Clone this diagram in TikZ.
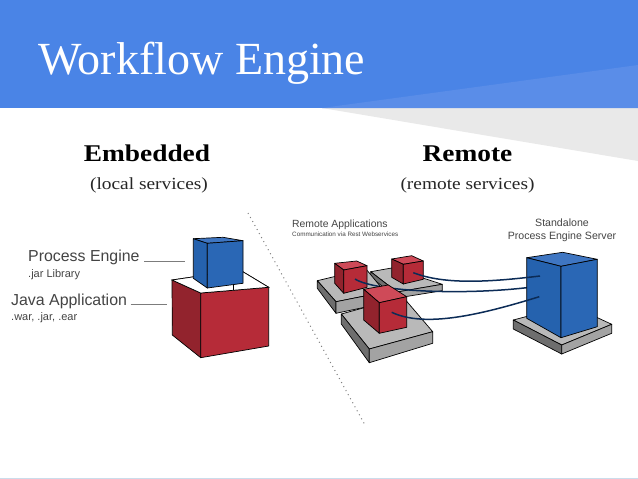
\documentclass[tikz,border=0pt]{standalone}
\usepackage{fontspec}
\setmainfont{Liberation Serif}
\newfontfamily\labelfont{Liberation Sans}
\newfontfamily\widefont[FakeStretch=1.14]{Liberation Serif}
\usepackage{tikz}
\definecolor{headblue}{HTML}{4A84E6}
\definecolor{headlight}{HTML}{5A8DE8}
\definecolor{wedgegray}{HTML}{E9E9E9}
\definecolor{footline}{HTML}{CBDCEB}
\definecolor{redtop}{HTML}{CF4A58}
\definecolor{redfront}{HTML}{B62B38}
\definecolor{redside}{HTML}{92232D}
\definecolor{bluetop}{HTML}{3F76C2}
\definecolor{bluefront}{HTML}{2A67B5}
\definecolor{blueside}{HTML}{2562AE}
\definecolor{basetop}{HTML}{B9B9B9}
\definecolor{basefront}{HTML}{A3A3A3}
\definecolor{baseside}{HTML}{6E6E6E}
\definecolor{wirenavy}{HTML}{0C2C57}
\definecolor{labelgray}{HTML}{444444}
\tikzset{edge/.style = {draw=black, line width=0.7pt, line join=round}}
\tikzset{wire/.style = {wirenavy, line width=1.5pt}}
\tikzset{callout/.style = {draw=labelgray!70, line width=1.2pt}}
\tikzset{biglabel/.style = {anchor=base west, inner sep=0, text=labelgray, font=\labelfont\fontsize{15.9}{16}\selectfont}}
\tikzset{smalllabel/.style = {anchor=base west, inner sep=0, text=labelgray, font=\labelfont\fontsize{11}{11}\selectfont}}
\tikzset{toplabel/.style = {anchor=base, inner sep=0, text=labelgray, font=\labelfont\fontsize{10.6}{11}\selectfont}}
\tikzset{headlabel/.style = {anchor=base, inner sep=0, font=\widefont\bfseries\fontsize{24}{24}\selectfont}}
\tikzset{sublabel/.style = {anchor=base, inner sep=0, text=black!85, font=\widefont\fontsize{17}{17}\selectfont}}
% the seven corners go in first, the three face colours follow
\newcommand{\cubefaces}[7]{\def\cubeA{#1}\def\cubeB{#2}\def\cubeC{#3}\def\cubeD{#4}\def\cubeE{#5}\def\cubeF{#6}\def\cubeG{#7}\cubepaint}
\newcommand{\cubepaint}[3]{
    \filldraw [edge, fill=#1] \cubeA -- \cubeB -- \cubeC -- \cubeD -- cycle;
    \filldraw [edge, fill=#3] \cubeA -- \cubeB -- \cubeF -- \cubeE -- cycle;
    \filldraw [edge, fill=#2] \cubeB -- \cubeC -- \cubeG -- \cubeF -- cycle;
}
\newcommand{\redcube}[7]{\cubefaces{#1}{#2}{#3}{#4}{#5}{#6}{#7}{redtop}{redfront}{redside}}
\newcommand{\bluecube}[7]{\cubefaces{#1}{#2}{#3}{#4}{#5}{#6}{#7}{bluetop}{bluefront}{blueside}}
\newcommand{\basecube}[7]{\cubefaces{#1}{#2}{#3}{#4}{#5}{#6}{#7}{basetop}{basefront}{baseside}}
\begin{document}
\begin{tikzpicture}[x=1pt,y=-1pt]
    \useasboundingbox (0,0) rectangle (638,479);
    \fill [white] (0,0) rectangle (638,479);
    % header
    \fill [wedgegray] (322,108) -- (638,161) -- (638,108) -- cycle;
    \fill [headblue] (0,0) rectangle (638,108);
    \fill [headlight] (322,108) -- (638,65) -- (638,108) -- cycle;
    \fill [footline] (0,477.5) rectangle (638,479);
    \node (title) [anchor=base west, inner sep=0, text=white, font=\fontsize{46}{46}\selectfont] at (38,74) {Workflow Engine};
    \node (embedded) [headlabel] at (147,161) {Embedded};
    \node (localsub) [sublabel] at (149,189) {(local services)};
    \node (remote) [headlabel] at (467.5,161) {Remote};
    \node (remotesub) [sublabel] at (467.5,189) {(remote services)};
    % divider
    \draw [black!50, line width=1pt, dash pattern=on 1pt off 3.6pt] (248,213) -- (365,425);
    % embedded side
    \node (enginelabel) [biglabel] at (28,261) {Process Engine};
    \node (enginesub) [smalllabel] at (28,277) {.jar Library};
    \node (javalabel) [biglabel] at (11,305) {Java Application};
    \node (javasub) [smalllabel] at (11,320.7) {.war, .jar, .ear};
    \draw [callout] (144,261.5) -- (185,261.5);
    \draw [callout] (130.7,304.5) -- (167,304.5);
    \redcube{(172,280)}{(200.7,293)}{(268.7,287.3)}{(240,270)}{(172.3,335)}{(200.7,357.7)}{(268.7,346)}
    \fill [white, draw=black, line width=0.7pt] (172,280) -- (200.7,293) -- (268.7,287.3) -- (240,270) -- cycle;
    \draw [edge] (233.3,285) -- (233.3,290);
    \bluecube{(193.3,238.7)}{(207.3,243.3)}{(243,240.7)}{(223,237.3)}{(193.3,278.3)}{(207.3,288)}{(243,283.3)}
    % remote side
    \node (applabel) [anchor=base west, inner sep=0, text=labelgray, font=\labelfont\fontsize{10.4}{11}\selectfont] at (292,227.7) {Remote Applications};
    \node (appsub) [anchor=base west, inner sep=0, text=labelgray, font=\labelfont\fontsize{6.3}{7}\selectfont] at (292,236.7) {Communication via Rest Webservices};
    \node (serverlabel) [toplabel] at (562,226.7) {Standalone};
    \node (serversub) [toplabel] at (562,239.3) {Process Engine Server};
    \basecube{(370.7,271.7)}{(397,292)}{(442.3,284.3)}{(391.7,268)}{(370.7,277)}{(397,298)}{(442.3,290.7)}
    \redcube{(391.7,259)}{(403.3,264.3)}{(423.3,261)}{(411.7,255.7)}{(391.7,277.3)}{(403.3,284)}{(423.3,279.3)}
    \basecube{(317.3,280.7)}{(336,301.7)}{(385,292)}{(366,269)}{(317.3,288.3)}{(336,313.3)}{(385,303)}
    \redcube{(334.7,263.3)}{(343.7,270)}{(367,265.7)}{(356.7,261)}{(334.7,283.3)}{(343.7,293.3)}{(367,287.3)}
    \coordinate (wirea) at (413.3,272.7);
    \coordinate (wireb) at (355,279);
    \coordinate (wirec) at (391.7,312.3);
    \coordinate (enda) at (540,276);
    \coordinate (endb) at (540,286);
    \coordinate (endc) at (539.3,296.7);
    \draw [wire] (wireb) .. controls (375,292) and (470,296) .. (endb);
    \basecube{(341.3,314)}{(369.3,349)}{(432.7,331.7)}{(403,297)}{(341.3,324)}{(369.3,362.7)}{(432.7,343.3)}
    \redcube{(363.7,289.3)}{(379.3,302.7)}{(406.7,296.7)}{(388.3,285)}{(363.7,320)}{(379.3,333.3)}{(406.7,327.3)}
    \basecube{(513.3,320)}{(561.7,345)}{(611.7,324.3)}{(570,305)}{(513.3,329)}{(561.7,354)}{(611.7,333.3)}
    \bluecube{(526.7,257.7)}{(561,266.3)}{(597.3,259.3)}{(562.7,252.3)}{(526.7,318.3)}{(561,337.7)}{(597.3,326.7)}
    \draw [wire] (wirea) .. controls (445,285) and (490,282) .. (enda);
    \draw [wire] (wirec) .. controls (425,328) and (480,315) .. (endc);
\end{tikzpicture}
\end{document}
